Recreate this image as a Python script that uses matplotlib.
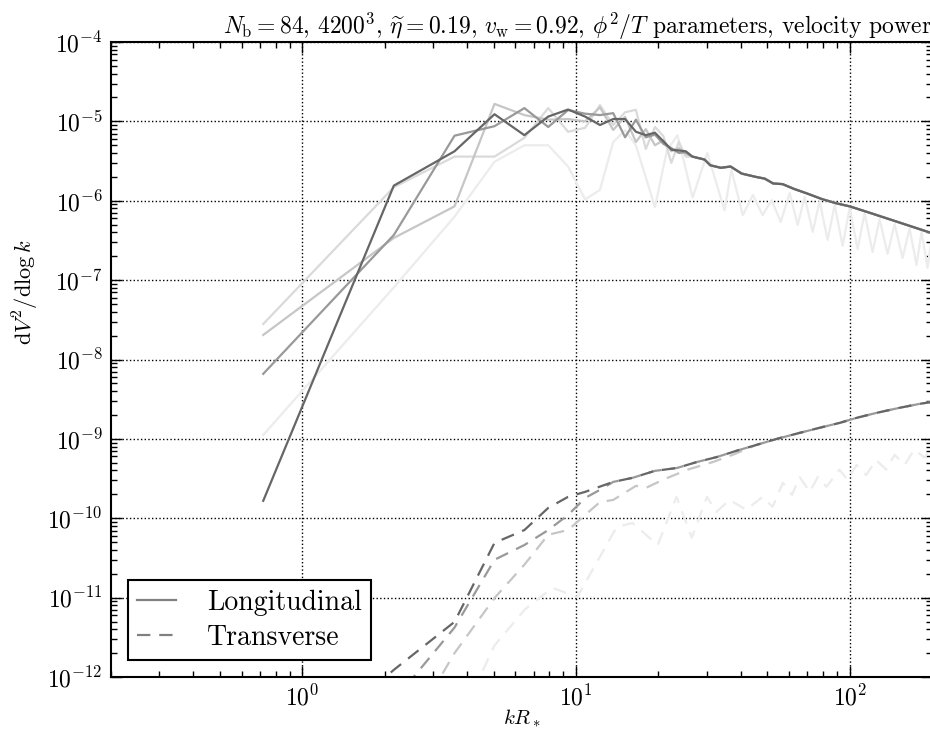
import matplotlib
matplotlib.use("Agg")
import matplotlib.pyplot as plt
from matplotlib.lines import Line2D

plt.rcParams["font.family"] = "serif"
plt.rcParams["font.serif"] = ["cmr10", "DejaVu Serif"]
plt.rcParams["mathtext.fontset"] = "cm"
plt.rcParams["axes.formatter.use_mathtext"] = True

# wavenumber bins (kR_*)
k_bins = [0.72, 2.16, 3.60, 5.04, 6.48, 7.92, 9.36, 10.8, 12.24, 13.68,
          15.12, 16.56, 18.0, 19.44, 20.88, 22.32, 23.76, 25.2]

# longitudinal power, early times light -> late times dark
long_t2 = [2.8e-8, 1.48e-6, 3.6e-6, 3.6e-6, 6.2e-6, 1.47e-5, 7.4e-6, 8.3e-6, 1.6e-5, 9.0e-6,
           1.3e-5, 1.4e-5, 4.5e-6, 8.5e-6, 6.5e-6, 3.0e-6, 5.5e-6, 3.6e-6]
long_t3 = [2.04e-8, 3.4e-7, 8.5e-7, 1.66e-5, 1.2e-5, 1.05e-5, 1.07e-5, 1.0e-5, 1.5e-5, 7.8e-6,
           1.14e-5, 5.5e-6, 8.0e-6, 5.0e-6, 5.8e-6, 4.2e-6, 4.6e-6, 3.9e-6]
long_t4 = [6.6e-9, 3.7e-7, 6.6e-6, 8.7e-6, 1.47e-5, 8.5e-6, 1.39e-5, 1.25e-5, 1.2e-5, 1.27e-5,
           6.3e-6, 1.05e-5, 6.3e-6, 6.8e-6, 5.2e-6, 4.6e-6, 4.0e-6, 4.1e-6]
long_t5 = [1.66e-10, 1.55e-6, 4.2e-6, 1.23e-5, 6.7e-6, 1.15e-5, 1.41e-5, 1.15e-5, 9.0e-6, 1.07e-5,
           1.07e-5, 7.4e-6, 6.7e-6, 7.2e-6, 5.6e-6, 4.4e-6, 4.3e-6, 4.2e-6]

# UV tail shared by the later snapshots
long_tail_k = [26.64, 29.52, 30.96, 33.84, 36.72, 40.32, 45.36, 48.96, 52.56, 56.88,
               62.64, 70.56, 79.2, 89.28, 100.08, 120.0, 150.0, 200.0]
long_tail = [3.6e-6, 3.3e-6, 2.8e-6, 2.6e-6, 2.7e-6, 2.2e-6, 2.0e-6, 1.9e-6, 1.65e-6, 1.62e-6,
             1.41e-6, 1.22e-6, 1.05e-6, 9.3e-7, 8.5e-7, 6.95e-7, 5.4e-7, 3.9e-7]

# earliest snapshot, oscillating at high k
long_t1_k = [0.72, 2.16, 3.6, 5.04, 6.48, 7.92, 9.36, 10.8, 12.24, 13.68, 15.12, 16.56,
             19.44, 21.5, 23.5, 26.7, 30.2, 34.9, 37.0, 40.7, 44.3, 48.1, 51.9, 56.0,
             60.4, 64.6, 68.5, 73.3, 77.7, 83.1, 88.2, 94.3, 100.0, 107.0, 113.4, 121.3,
             128.7, 137.6, 146.0, 156.1, 165.6, 175.6, 183.2, 192.6, 200.0]
long_t1 = [1.12e-9, 8.1e-8, 6.3e-7, 3.1e-6, 5.0e-6, 5.0e-6, 2.7e-6, 1.04e-6, 1.37e-6, 5.5e-6,
           7.7e-6, 5.0e-6, 8.3e-7, 4.3e-6, 6.7e-6, 1.1e-6, 4.0e-6, 7.6e-7, 2.45e-6, 6.6e-7,
           1.18e-6, 6.6e-7, 1.02e-6, 5.4e-7, 1.25e-6, 4.96e-7, 1.12e-6, 4.05e-7, 9.9e-7, 3.21e-7,
           8.85e-7, 2.7e-7, 8.1e-7, 2.47e-7, 7.0e-7, 2.26e-7, 5.9e-7, 2.14e-7, 5.1e-7, 1.9e-7,
           4.5e-7, 1.55e-7, 4.05e-7, 1.43e-7, 3.6e-7]

# transverse power
trans_t5_k = [0.72, 2.16, 3.6, 5.04, 6.48, 7.92, 9.36, 10.8]
trans_t5 = [4.5e-14, 1.23e-12, 4.95e-12, 4.9e-11, 7.1e-11, 1.35e-10, 1.86e-10, 2.15e-10]
trans_t4_k = [0.72, 2.16, 3.6, 5.04, 6.48, 7.92, 9.36, 10.8, 12.24]
trans_t4 = [2e-14, 5e-13, 4.2e-12, 3.0e-11, 4.6e-11, 7.1e-11, 1.1e-10, 1.8e-10, 2.28e-10]
trans_tail_k = [13.68, 16.1, 19.4, 23.4, 27.6, 32.7, 38.7, 45.7, 54.2, 65.7,
                77.7, 92.0, 106.0, 125.0, 152.0, 180.0, 200.0]
trans_tail = [2.87e-10, 3.23e-10, 3.95e-10, 4.3e-10, 5.1e-10, 5.9e-10, 7.1e-10, 8.4e-10, 1.0e-9, 1.19e-9,
              1.38e-9, 1.59e-9, 1.84e-9, 2.12e-9, 2.46e-9, 2.76e-9, 2.92e-9]
trans_t3_k = [2.16, 3.6, 5.04, 6.48, 7.92, 9.36, 10.8, 12.24, 13.68, 16.56, 18.0, 21.0, 25.6, 31.6, 37.4]
trans_t3 = [1e-13, 2.0e-12, 9.9e-12, 2.6e-11, 6.2e-11, 7.1e-11, 1.1e-10, 1.6e-10, 1.7e-10, 2.56e-10,
            2.41e-10, 3.1e-10, 4.1e-10, 5.1e-10, 6.3e-10]
trans_t1_k = [3.6, 5.04, 6.48, 8.2, 10.1, 11.5, 14.1, 16.1, 19.9, 23.3, 26.5, 30.1, 32.6, 36.4,
              41.9, 48.1, 52.3, 57.0, 61.6, 65.7, 71.5, 76.5, 82.4, 91.8, 98.2, 106.0, 115.0,
              125.0, 136.0, 146.0, 159.0, 172.0, 188.0, 200.0]
trans_t1 = [2.1e-13, 2.5e-12, 7.0e-12, 1.33e-11, 1.02e-11, 2.24e-11, 7.8e-11, 8.7e-11, 4.6e-11, 1.86e-10,
            5.7e-11, 1.86e-10, 1.2e-10, 1.7e-10, 1.28e-10, 1.86e-10, 1.39e-10, 2.8e-10, 1.97e-10, 3.3e-10,
            2.15e-10, 3.3e-10, 2.5e-10, 4.1e-10, 3.05e-10, 4.7e-10, 3.5e-10, 5.4e-10, 4.1e-10, 6.3e-10,
            4.7e-10, 7.3e-10, 5.8e-10, 7.9e-10]

shades = ["#ececec", "#dadada", "#c6c6c6", "#999999", "#666666"]
lw = 1.6
dash = (6, 4)

fig = plt.figure(figsize=(9.3, 7.3), dpi=100)
ax = fig.add_axes([111 / 930, 53 / 730, 821 / 930, 635 / 730])

ax.plot(long_t1_k, long_t1, color=shades[0], lw=lw)
ax.plot(k_bins + long_tail_k, long_t2 + long_tail, color=shades[1], lw=lw)
ax.plot(k_bins + long_tail_k, long_t3 + long_tail, color=shades[2], lw=lw)
ax.plot(k_bins + long_tail_k, long_t4 + long_tail, color=shades[3], lw=lw)
ax.plot(k_bins + long_tail_k, long_t5 + long_tail, color=shades[4], lw=lw)

ax.plot(trans_t1_k, trans_t1, color=shades[0], lw=lw, dashes=dash)
ax.plot(trans_t3_k + trans_tail_k[7:], trans_t3 + trans_tail[7:], color=shades[2], lw=lw, dashes=dash)
ax.plot(trans_t4_k + trans_tail_k, trans_t4 + trans_tail, color=shades[3], lw=lw, dashes=dash)
ax.plot(trans_t5_k + trans_tail_k, trans_t5 + trans_tail, color=shades[4], lw=lw, dashes=dash)

ax.set_xscale("log")
ax.set_yscale("log")
ax.set_xlim(0.2, 200)
ax.set_ylim(1e-12, 1e-4)

ax.grid(True, which="major", color="k", linestyle=":", linewidth=1.0)
ax.tick_params(which="both", direction="in", top=True, right=True, labelsize=17, pad=6)
ax.tick_params(which="major", length=8, width=1)
ax.tick_params(which="minor", length=4, width=1)
for sp in ax.spines.values():
    sp.set_linewidth(1.5)

ax.set_xlabel(r"$kR_*$", fontsize=15, labelpad=-2)
ax.set_ylabel(r"$\mathrm{d}V^2/\mathrm{d}\log k$", fontsize=16)
ax.yaxis.set_label_coords(-0.085, 0.605)
ax.set_title(r"$N_\mathrm{b}=84$, $4200^3$, $\widetilde{\eta}=0.19$, $v_\mathrm{w}=0.92$, "
             r"$\phi^2/T$ parameters, velocity power", fontsize=17, loc="right", pad=5)

handles = [Line2D([], [], color="#808080", lw=lw),
           Line2D([], [], color="#808080", lw=lw, dashes=dash)]
leg = ax.legend(handles, ["Longitudinal", "Transverse"], loc="lower left", fontsize=20,
                fancybox=False, framealpha=1, edgecolor="k", handlelength=1.4,
                handletextpad=1.1, borderpad=0.35, labelspacing=0.3, borderaxespad=0.6)
leg.get_frame().set_linewidth(1.5)

fig.savefig("out.png", dpi=100, facecolor="white")
